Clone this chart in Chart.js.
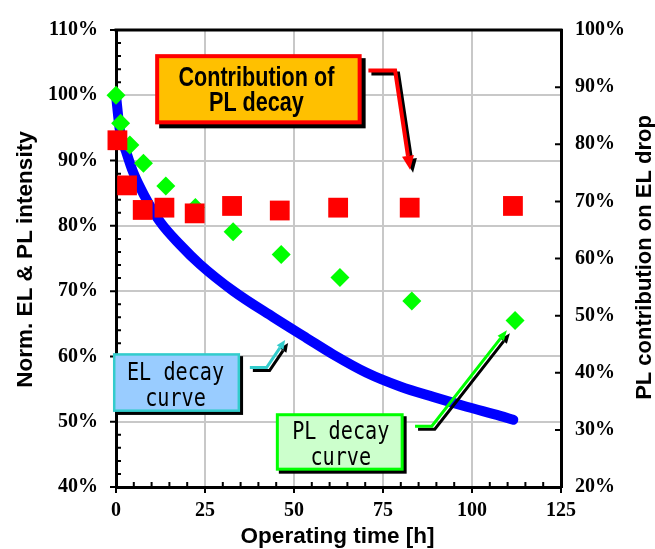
<!DOCTYPE html>
<html>
<head>
<meta charset="utf-8">
<script src="https://cdn.jsdelivr.net/npm/chart.js@4/dist/chart.umd.min.js"></script>
<style>
html,body{margin:0;padding:0;background:#ffffff;}
#wrap{width:655px;height:549px;}
</style>
</head>
<body>
<div id="wrap"><canvas id="c" width="655" height="549"></canvas></div>
<script>
// ---------------- data ----------------
const plHours        = [0, 1.3, 3.9, 7.7, 14.0, 22.3, 32.9, 46.4, 62.9, 83.1, 112.1];
const plIntensity    = [100, 95.7, 92.4, 89.6, 86.1, 82.8, 79.1, 75.6, 72.1, 68.5, 65.5];
const contribHours   = [0.4, 3.1, 7.5, 13.6, 22.1, 32.6, 46.0, 62.4, 82.5, 111.5];
const plContribution = [80.7, 72.8, 68.5, 68.9, 67.9, 69.2, 68.4, 68.9, 68.9, 69.2];
const elHours        = [0, 1.1, 3.0, 4.9, 8.0, 12.4, 18.0, 23.6, 33.0, 44.2, 53.6, 61.0, 70.4, 79.8, 89.1, 98.5, 107.9, 111.6];
const elIntensity    = [100, 94.6, 91.1, 88.1, 84.6, 80.6, 77.1, 74.1, 70.0, 66.0, 62.8, 60.3, 57.5, 55.4, 53.8, 52.3, 50.9, 50.3];

const xRange     = [0, 125];   // Operating time [h]
const leftRange  = [40, 110];  // Norm. EL & PL intensity [%]
const rightRange = [20, 100];  // PL contribution on EL drop [%]
const xTitle     = 'Operating time [h]';
const leftTitle  = 'Norm. EL & PL intensity';
const rightTitle = 'PL contribution on EL drop';

const box1Lines = ['Contribution of', 'PL decay'];
const box2Lines = ['EL decay', 'curve'];
const box3Lines = ['PL decay', 'curve'];

// ---------------- annotation layout (in axis units: hours / left %) ----------------
const boxes = [
  {lines: box1Lines, x: [11.0, 69.0], y: [106.3, 95.55], fill: '#FFC000', stroke: '#FF0000', bw: 4, shadow: 4,
   font: 'bold 27px "Liberation Sans", Arial, sans-serif', sx: 0.8, base: [32.3, 56.7], dx: -2},
  {lines: box2Lines, x: [-0.85, 34.85], y: [60.5, 51.5], fill: '#99CCFF', stroke: '#33CCCC', bw: 2.5, shadow: 3,
   font: '24px "DejaVu Sans Mono", monospace', sx: 0.84, base: [27, 53], dx: -1},
  {lines: box3Lines, x: [44.9, 80.8], y: [51.3, 42.5], fill: '#CCFFCC', stroke: '#00FF00', bw: 3, shadow: 3,
   font: '24px "DejaVu Sans Mono", monospace', sx: 0.84, base: [25.5, 51.5], dx: 1}
];
const arrows = [
  {pts: [[70.9, 103.8], [78.4, 103.8], [82.6, 88.6]], color: '#FF0000', w: 4, hl: 14, hw: 12},
  {pts: [[37.6, 58.3], [42.3, 58.3], [47.5, 62.5]], color: '#33CCCC', w: 3, hl: 9, hw: 8},
  {pts: [[84.0, 49.3], [88.7, 49.3], [109.8, 64.0]], color: '#00FF00', w: 3, hl: 10, hw: 8}
];

const toXY = (xs, ys) => xs.map((x, i) => ({x: x, y: ys[i]}));

// ---------------- plugins ----------------
const frameTicks = {
  id: 'frameTicks',
  beforeDatasetsDraw(chart) {
    const {ctx, chartArea: a, scales: {x, y, y2}} = chart;
    ctx.save();
    ctx.strokeStyle = '#000';
    ctx.lineWidth = 3;
    ctx.beginPath();
    ctx.moveTo(a.left - 1.5, a.top); ctx.lineTo(a.right + 1.5, a.top);
    ctx.stroke();
    ctx.lineWidth = 2;
    ctx.beginPath();
    for (let v = y.min; v <= y.max + 1e-9; v += 2) {
      const p = y.getPixelForValue(v);
      if (Math.round(v) % 10 === 0) { ctx.moveTo(a.left - 6, p); ctx.lineTo(a.left, p); }
      else { ctx.moveTo(a.left, p); ctx.lineTo(a.left + 5, p); }
    }
    for (let v = x.min; v <= x.max + 1e-9; v += 5) {
      const p = x.getPixelForValue(v);
      if (Math.round(v) % 25 === 0) { ctx.moveTo(p, a.bottom); ctx.lineTo(p, a.bottom + 6); }
      else { ctx.moveTo(p, a.bottom); ctx.lineTo(p, a.bottom - 5); }
    }
    for (let v = y2.min; v <= y2.max + 1e-9; v += 10) {
      const p = y2.getPixelForValue(v);
      ctx.moveTo(a.right, p); ctx.lineTo(a.right - 6, p);
    }
    ctx.stroke();
    ctx.restore();
  }
};

function drawArrow(ctx, pts, color, w, hl, hw) {
  const n = pts.length;
  const [tx, ty] = pts[n - 1];
  const [sx, sy] = pts[n - 2];
  const ang = Math.atan2(ty - sy, tx - sx);
  const bx = tx - hl * Math.cos(ang), by = ty - hl * Math.sin(ang);
  ctx.strokeStyle = color; ctx.fillStyle = color;
  ctx.lineWidth = w; ctx.lineJoin = 'miter'; ctx.lineCap = 'butt';
  ctx.beginPath();
  ctx.moveTo(pts[0][0], pts[0][1]);
  for (let i = 1; i < n - 1; i++) ctx.lineTo(pts[i][0], pts[i][1]);
  ctx.lineTo(bx, by);
  ctx.stroke();
  ctx.beginPath();
  ctx.moveTo(tx, ty);
  ctx.lineTo(bx + hw / 2 * Math.sin(ang), by - hw / 2 * Math.cos(ang));
  ctx.lineTo(bx - hw / 2 * Math.sin(ang), by + hw / 2 * Math.cos(ang));
  ctx.closePath();
  ctx.fill();
}

const annotations = {
  id: 'annotations',
  afterDatasetsDraw(chart) {
    const {ctx, scales: {x, y}} = chart;
    ctx.save();
    arrows.forEach(ar => {
      const pts = ar.pts.map(p => [x.getPixelForValue(p[0]), y.getPixelForValue(p[1])]);
      drawArrow(ctx, pts.map(p => [p[0] + 3, p[1] + 3]), '#000', ar.w, ar.hl, ar.hw);
      drawArrow(ctx, pts, ar.color, ar.w, ar.hl, ar.hw);
    });
    boxes.forEach(b => {
      const l = x.getPixelForValue(b.x[0]), r = x.getPixelForValue(b.x[1]);
      const t = y.getPixelForValue(b.y[0]), btm = y.getPixelForValue(b.y[1]);
      const w = r - l, h = btm - t;
      ctx.fillStyle = '#000';
      ctx.fillRect(l + b.shadow, t + b.shadow, w, h);
      ctx.fillStyle = b.stroke;
      ctx.fillRect(l, t, w, h);
      ctx.fillStyle = b.fill;
      ctx.fillRect(l + b.bw, t + b.bw, w - 2 * b.bw, h - 2 * b.bw);
      ctx.fillStyle = '#000';
      ctx.font = b.font;
      ctx.textAlign = 'center';
      ctx.textBaseline = 'alphabetic';
      b.lines.forEach((s, i) => {
        ctx.save();
        ctx.translate((l + r) / 2 + b.dx, t + b.base[i]);
        ctx.scale(b.sx, 1);
        ctx.fillText(s, 0, 0);
        ctx.restore();
      });
    });
    ctx.restore();
  },
  afterDraw(chart) {
    const {ctx, chartArea: a} = chart;
    ctx.save();
    ctx.fillStyle = '#000';
    ctx.textAlign = 'center';
    ctx.textBaseline = 'alphabetic';
    ctx.font = 'bold 22.5px "Liberation Sans", Arial, sans-serif';
    ctx.fillText(xTitle, (a.left + a.right) / 2 - 1, a.bottom + 56);
    ctx.save();
    ctx.translate(a.left - 84, (a.top + a.bottom) / 2 + 1);
    ctx.rotate(-Math.PI / 2);
    ctx.fillText(leftTitle, 0, 0);
    ctx.restore();
    ctx.font = 'bold 22px "Liberation Sans", Arial, sans-serif';
    ctx.save();
    ctx.translate(a.right + 90, (a.top + a.bottom) / 2 - 1);
    ctx.rotate(-Math.PI / 2);
    ctx.fillText(rightTitle, 0, 0);
    ctx.restore();
    ctx.restore();
  }
};

// ---------------- chart ----------------
const tickFont = {family: '"Liberation Serif", "Times New Roman", serif', size: 20, weight: 'bold'};
const gridCol = '#c8c8c8';

new Chart(document.getElementById('c'), {
  type: 'scatter',
  data: {
    datasets: [
      {label: 'PL contribution', data: toXY(contribHours, plContribution), yAxisID: 'y2', order: 1,
       pointStyle: 'rect', pointRadius: 14, backgroundColor: '#FF0000', borderWidth: 0, clip: false},
      {label: 'PL intensity', data: toXY(plHours, plIntensity), yAxisID: 'y', order: 2,
       pointStyle: 'rectRot', pointRadius: 9.5, backgroundColor: '#00FF00', borderWidth: 0, clip: false},
      {label: 'EL intensity', data: toXY(elHours, elIntensity), yAxisID: 'y', order: 3,
       showLine: true, pointRadius: 0, borderColor: '#0000FF', borderWidth: 10,
       borderCapStyle: 'round', borderJoinStyle: 'round', cubicInterpolationMode: 'monotone', clip: false}
    ]
  },
  options: {
    responsive: false,
    animation: false,
    devicePixelRatio: 1,
    layout: {padding: {top: 20, left: 0, right: 0, bottom: 0}},
    plugins: {legend: {display: false}, tooltip: {enabled: false}},
    scales: {
      x: {
        type: 'linear', position: 'bottom', min: xRange[0], max: xRange[1],
        afterFit: s => { s.height = 62; },
        ticks: {stepSize: 25, color: '#000', font: tickFont, padding: 12, maxRotation: 0},
        grid: {color: c => (c.tick && (c.tick.value === xRange[0] || c.tick.value === xRange[1])) ? 'rgba(0,0,0,0)' : gridCol,
               lineWidth: 2, drawTicks: false},
        border: {display: true, color: '#000', width: 3}
      },
      y: {
        type: 'linear', position: 'left', min: leftRange[0], max: leftRange[1],
        afterFit: s => { s.width = 116; },
        ticks: {stepSize: 10, color: '#000', font: tickFont, padding: 18, callback: v => v + '%'},
        grid: {color: c => (c.tick && (c.tick.value === leftRange[0] || c.tick.value === leftRange[1])) ? 'rgba(0,0,0,0)' : gridCol,
               lineWidth: 2, drawTicks: false},
        border: {display: true, color: '#000', width: 3}
      },
      y2: {
        type: 'linear', position: 'right', min: rightRange[0], max: rightRange[1],
        afterFit: s => { s.width = 94; },
        ticks: {stepSize: 10, color: '#000', font: tickFont, padding: 14, callback: v => v + '%'},
        grid: {drawOnChartArea: false, drawTicks: false},
        border: {display: true, color: '#000', width: 3}
      }
    }
  },
  plugins: [frameTicks, annotations]
});
</script>
</body>
</html>
